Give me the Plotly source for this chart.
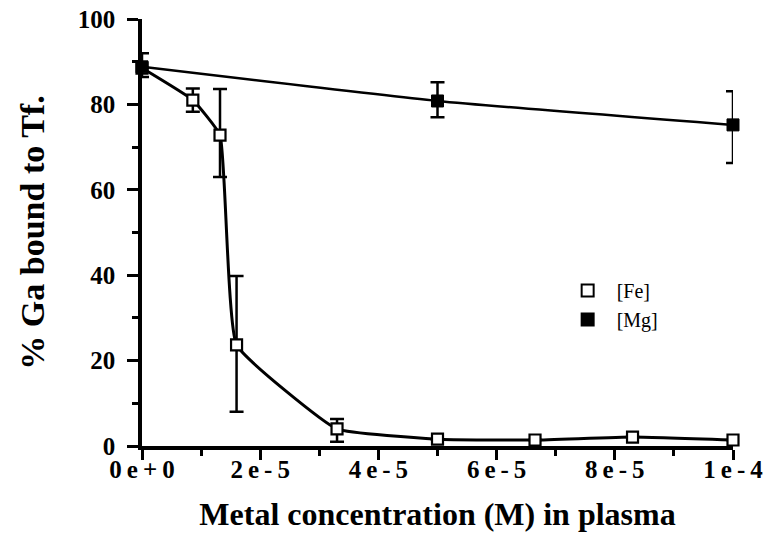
import plotly.graph_objects as go

# Fe competition series
fe_conc = [0.0, 8.6e-6, 1.32e-5, 1.6e-5, 3.3e-5, 5.0e-5, 6.65e-5, 8.3e-5, 1.0e-4]
fe_pct = [88.5, 81.0, 72.8, 23.7, 4.0, 1.6, 1.4, 2.1, 1.4]
fe_err_plus = [0.0, 2.7, 10.8, 16.1, 2.3, 0.0, 0.0, 0.0, 0.0]
fe_err_minus = [0.0, 2.7, 9.8, 15.7, 3.0, 0.0, 0.0, 0.0, 0.0]

# Mg competition series
mg_conc = [0.0, 5.0e-5, 1.0e-4]
mg_pct = [88.8, 80.8, 75.2]
mg_err_plus = [3.2, 4.4, 7.9]
mg_err_minus = [2.4, 3.8, 8.9]

x_tickvals = [0.0, 2e-5, 4e-5, 6e-5, 8e-5, 1e-4]
x_ticktext = ["0e+0", "2e-5", "4e-5", "6e-5", "8e-5", "1e-4"]
y_tickvals = [0, 20, 40, 60, 80, 100]

FONT = "Liberation Serif"

# letter-spaced tick labels (thin spaces between characters)
x_ticktext_spaced = ["\u2009".join(label) for label in x_ticktext]

fig = go.Figure()

# smooth fitted curves
fig.add_trace(go.Scatter(
    x=fe_conc, y=fe_pct, mode="lines", showlegend=False, hoverinfo="skip",
    line=dict(color="black", width=3, shape="spline", smoothing=0.35),
))
fig.add_trace(go.Scatter(
    x=mg_conc, y=mg_pct, mode="lines", showlegend=False, hoverinfo="skip",
    line=dict(color="black", width=2.5, shape="spline", smoothing=0.5),
))

# data points with error bars
fig.add_trace(go.Scatter(
    x=fe_conc, y=fe_pct, mode="markers", name="[Fe]", cliponaxis=False,
    marker=dict(symbol="square", size=11, color="white",
                line=dict(color="black", width=2.2)),
    error_y=dict(type="data", symmetric=False, array=fe_err_plus,
                 arrayminus=fe_err_minus, color="black", thickness=2.5, width=7),
))
fig.add_trace(go.Scatter(
    x=mg_conc, y=mg_pct, mode="markers", name="[Mg]", cliponaxis=False,
    marker=dict(symbol="square", size=12, color="black",
                line=dict(color="black", width=1)),
    error_y=dict(type="data", symmetric=False, array=mg_err_plus,
                 arrayminus=mg_err_minus, color="black", thickness=2.5, width=7),
))

axis_common = dict(
    showline=True, linecolor="black", linewidth=3.5, mirror=False,
    showgrid=False, zeroline=False, automargin=False,
    ticks="outside", tickcolor="black", tickwidth=2.5,
    tickfont=dict(family=FONT, size=25, color="black", weight="bold"),
)

fig.update_xaxes(
    range=[0, 1e-4], tickvals=x_tickvals, ticktext=x_ticktext_spaced,
    ticklen=10, ticklabelstandoff=-12,
    minor=dict(ticks="outside", dtick=1e-5, ticklen=6, tickwidth=2.5, tickcolor="black"),
    title=dict(text="Metal concentration (M) in plasma", standoff=22,
               font=dict(family=FONT, size=32, color="black", weight="bold")),
    **axis_common,
)
fig.update_yaxes(
    range=[0, 100], tickvals=y_tickvals, ticklen=11, ticklabelstandoff=7,
    minor=dict(ticks="outside", dtick=10, ticklen=6, tickwidth=2.5, tickcolor="black"),
    title=dict(text="% Ga bound to Tf.", standoff=24,
               font=dict(family=FONT, size=34, color="black", weight="bold")),
    **axis_common,
)

fig.update_layout(
    width=764, height=544,
    margin=dict(l=142, r=31, t=19, b=98),
    paper_bgcolor="white", plot_bgcolor="white",
    showlegend=True,
    legend=dict(x=0.705, y=0.41, xanchor="left", yanchor="top",
                bgcolor="rgba(0,0,0,0)", borderwidth=0,
                font=dict(family=FONT, size=20, color="black"),
                itemsizing="constant", itemwidth=48),
)

fig.write_html("out.html")
